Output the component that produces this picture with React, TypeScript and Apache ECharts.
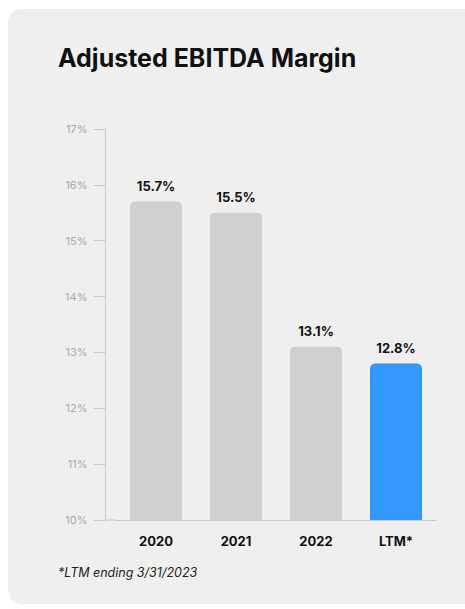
import React, { useEffect, useRef } from "react";
import * as echarts from "echarts";

const categories = ["2020", "2021", "2022", "LTM*"];
const margins = [15.7, 15.5, 13.1, 12.8];
const barColors = ["#d0d0ce", "#d0d0ce", "#d0d0ce", "#3399ff"];
const titleText = "Adjusted EBITDA Margin";
const footnote = "*LTM ending 3/31/2023";

const FONT = "Inter, 'Noto Sans', sans-serif";
const GRID_LEFT = 116;
const GRID_RIGHT = 29;
const GRID_TOP = 129;
const GRID_BOTTOM = 89;
const Y_OFFSET = 10.5;

export default function App() {
  const ref = useRef<HTMLDivElement>(null);
  useEffect(() => {
    if (!ref.current) return;
    const chart = echarts.init(ref.current, undefined, { renderer: "svg" });
    const axisY = 609 - GRID_BOTTOM;
    chart.setOption({
      animation: false,
      backgroundColor: "#ffffff",
      graphic: [
        {
          type: "rect",
          z: -10,
          shape: { x: 8, y: 9, width: 480, height: 595, r: 14 },
          style: { fill: "#efefef" },
        },
        {
          type: "text",
          left: 58,
          top: 45,
          style: {
            text: titleText,
            fontFamily: FONT,
            fontSize: 25,
            fontWeight: "bold",
            fill: "#111111",
          },
        },
        {
          type: "text",
          left: 58,
          top: 566,
          style: {
            text: footnote,
            fontFamily: FONT,
            fontSize: 12.5,
            fontStyle: "italic",
            fill: "#222222",
          },
        },
        {
          type: "line",
          shape: { x1: GRID_LEFT - Y_OFFSET, y1: axisY, x2: GRID_LEFT, y2: axisY },
          style: { stroke: "#c8c8c8", lineWidth: 1 },
        },
      ],
      grid: { left: GRID_LEFT, right: GRID_RIGHT, top: GRID_TOP, bottom: GRID_BOTTOM },
      xAxis: {
        type: "category",
        data: categories,
        axisLine: { show: true, lineStyle: { color: "#c8c8c8", width: 1 } },
        axisTick: { show: false },
        axisLabel: {
          color: "#111111",
          fontFamily: FONT,
          fontSize: 13,
          fontWeight: "bold",
          margin: 14,
        },
      },
      yAxis: {
        type: "value",
        min: 10,
        max: 17,
        interval: 1,
        offset: Y_OFFSET,
        axisLine: { show: true, lineStyle: { color: "#c8c8c8", width: 1 } },
        axisTick: { show: true, length: 12, lineStyle: { color: "#c8c8c8", width: 1 } },
        splitLine: { show: false },
        axisLabel: {
          formatter: "{value}%",
          color: "#aaaaaa",
          fontFamily: FONT,
          fontSize: 11,
          margin: 18,
        },
      },
      series: [
        {
          type: "bar",
          barWidth: 52,
          data: margins.map((v, i) => ({
            value: v,
            itemStyle: { color: barColors[i], borderRadius: [5, 5, 0, 0] },
          })),
          label: {
            show: true,
            position: "top",
            distance: 9,
            formatter: (p: any) => p.value.toFixed(1) + "%",
            color: "#111111",
            fontFamily: FONT,
            fontSize: 13,
            fontWeight: "bold",
          },
        },
      ],
    });
    return () => chart.dispose();
  }, []);
  return (
    <div
      ref={ref}
      style={{ position: "fixed", left: 0, top: 0, width: 465, height: 609 }}
    />
  );
}
